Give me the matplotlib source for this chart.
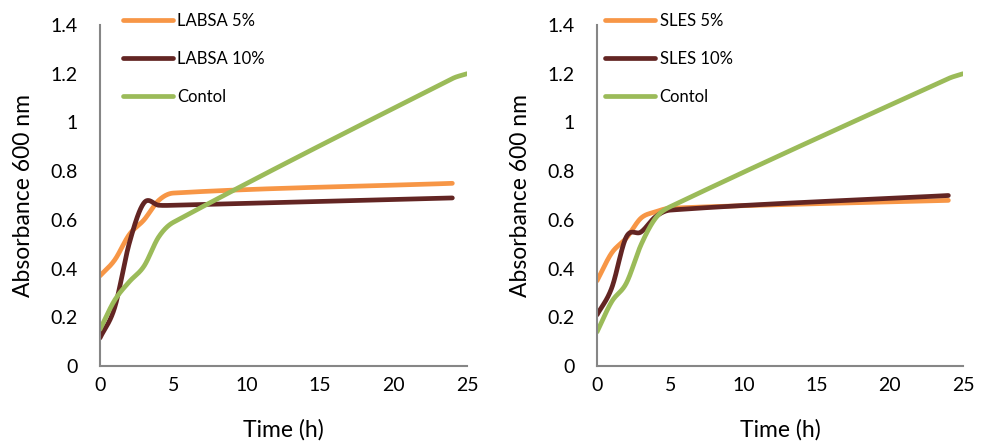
import numpy as np
import matplotlib.pyplot as plt

# ---------------------------
# DATA
# ---------------------------
time = [0, 1, 2, 3, 4, 5, 24]
time_ctrl = [0, 1, 2, 3, 4, 5, 24, 25]

labsa_5 = [0.37, 0.435, 0.54, 0.60, 0.68, 0.71, 0.75]
labsa_10 = [0.115, 0.24, 0.505, 0.67, 0.66, 0.66, 0.69]
control_left = [0.15, 0.27, 0.346, 0.41, 0.53, 0.59, 1.18, 1.20]

sles_5 = [0.35, 0.464, 0.525, 0.607, 0.633, 0.648, 0.68]
sles_10 = [0.21, 0.32, 0.53, 0.55, 0.613, 0.64, 0.70]
control_right = [0.14, 0.264, 0.34, 0.497, 0.607, 0.654, 1.18, 1.20]

x_ticks = [0, 5, 10, 15, 20, 25]
y_ticks = [0, 0.2, 0.4, 0.6, 0.8, 1, 1.2, 1.4]

ORANGE = '#F79646'
DARK = '#632523'
GREEN = '#9BBB59'


def smooth(x, y, n=40):
    # smoothed line through the points (cubic Hermite, Catmull-Rom tangents)
    x = np.asarray(x, float)
    y = np.asarray(y, float)
    m = np.zeros_like(y)
    m[1:-1] = (y[2:] - y[:-2]) / (x[2:] - x[:-2])
    m[0] = (y[1] - y[0]) / (x[1] - x[0])
    m[-1] = (y[-1] - y[-2]) / (x[-1] - x[-2])
    xs, ys = [], []
    for i in range(len(x) - 1):
        h = x[i + 1] - x[i]
        t = np.linspace(0, 1, n)
        h00 = 2 * t**3 - 3 * t**2 + 1
        h10 = t**3 - 2 * t**2 + t
        h01 = -2 * t**3 + 3 * t**2
        h11 = t**3 - t**2
        xs.append(x[i] + t * h)
        ys.append(h00 * y[i] + h10 * h * m[i] + h01 * y[i + 1] + h11 * h * m[i + 1])
    return np.concatenate(xs), np.concatenate(ys)


plt.rcParams['font.family'] = ['Lato', 'DejaVu Sans']

fig = plt.figure(figsize=(9.88, 4.42), dpi=100)
ax1 = fig.add_axes([0.1012, 0.172, 0.3715, 0.7714])
ax2 = fig.add_axes([0.6043, 0.172, 0.3704, 0.7714])

panels = [
    (ax1, [('LABSA 5%', labsa_5, ORANGE), ('LABSA 10%', labsa_10, DARK)],
     control_left, 0.118),
    (ax2, [('SLES 5%', sles_5, ORANGE), ('SLES 10%', sles_10, DARK)],
     control_right, 0.606),
]

for ax, series, ctrl, leg_x in panels:
    handles = []
    for name, vals, col in series:
        sx, sy = smooth(time, vals)
        h, = ax.plot(sx, sy, color=col, lw=3.4, solid_capstyle='round', label=name)
        handles.append(h)
    cx, cy = smooth(time_ctrl, ctrl)
    h, = ax.plot(cx, cy, color=GREEN, lw=3.4, solid_capstyle='round', label='Contol')
    handles.append(h)

    ax.set_xlim(0, 25)
    ax.set_ylim(0, 1.4)
    ax.set_xticks(x_ticks)
    ax.set_xticklabels([str(v) for v in x_ticks])
    ax.set_yticks(y_ticks)
    ax.set_yticklabels(['0', '0.2', '0.4', '0.6', '0.8', '1', '1.2', '1.4'])
    ax.tick_params(length=0, labelsize=14, colors='black')
    ax.tick_params(axis='y', pad=16)
    ax.tick_params(axis='x', pad=8)
    for sp in ['top', 'right']:
        ax.spines[sp].set_visible(False)
    for sp in ['left', 'bottom']:
        ax.spines[sp].set_color('#868686')
        ax.spines[sp].set_linewidth(1.5)
    ax.set_xlabel('Time (h)', fontsize=16.5, labelpad=18)
    ax.set_ylabel('Absorbance 600 nm', fontsize=16.5, labelpad=12)
    ax.set_clip_on(False)

    fig.legend(handles=handles, loc='upper left', bbox_to_anchor=(leg_x, 0.985),
               frameon=False, fontsize=12, handlelength=3.0, handletextpad=0.25,
               labelspacing=1.3, borderaxespad=0)

fig.savefig('out.png', dpi=100)
